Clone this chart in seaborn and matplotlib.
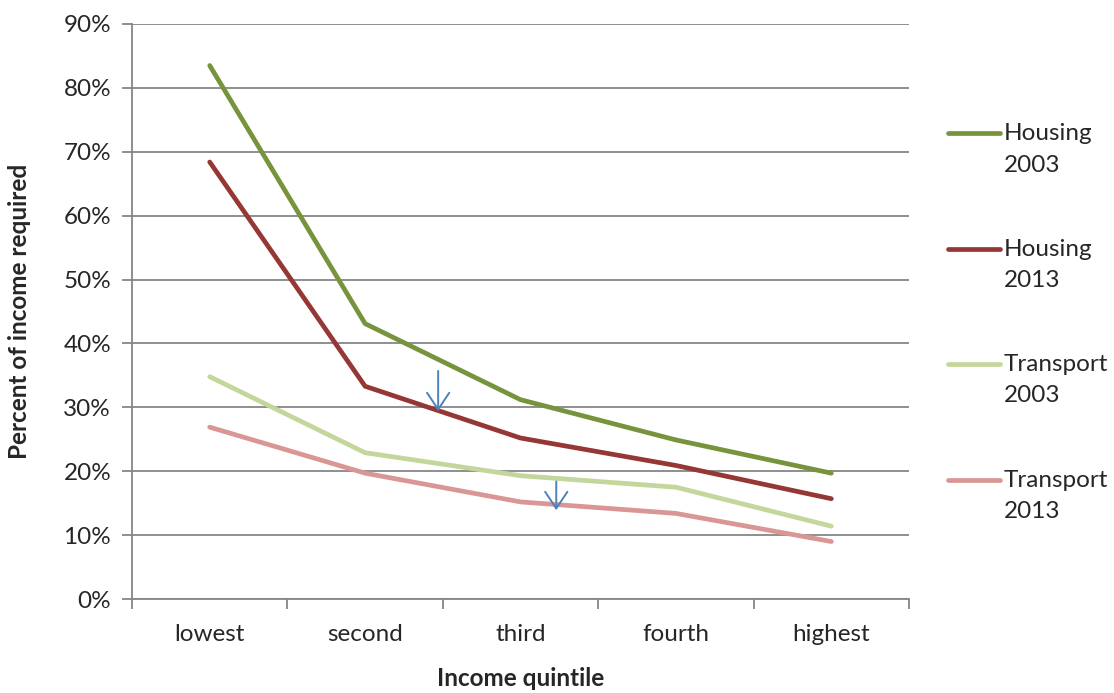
import matplotlib
matplotlib.use("Agg")
import matplotlib.pyplot as plt
from matplotlib.ticker import FixedLocator, PercentFormatter
import numpy as np
import pandas as pd
import seaborn as sns

# -------- Data --------
quintiles = ["lowest", "second", "third", "fourth", "highest"]
housing_2003 = [0.835, 0.431, 0.312, 0.249, 0.197]
housing_2013 = [0.684, 0.333, 0.252, 0.209, 0.157]
transport_2003 = [0.348, 0.229, 0.193, 0.175, 0.114]
transport_2013 = [0.269, 0.197, 0.152, 0.134, 0.090]

series_names = ["Housing\n2003", "Housing\n2013", "Transport\n2003", "Transport\n2013"]
palette = {
    "Housing\n2003": "#77933C",
    "Housing\n2013": "#953735",
    "Transport\n2003": "#C3D69B",
    "Transport\n2013": "#D99694",
}

# arrows marking the 2003 -> 2013 drop (x in quintile positions, y in share)
arrow_x = [1.47, 2.23]
arrow_top = [0.357, 0.184]
arrow_bottom = [0.294, 0.139]

pos = np.arange(len(quintiles))
df = pd.concat(
    [pd.DataFrame({"pos": pos, "share": vals, "series": name})
     for name, vals in zip(series_names,
                           [housing_2003, housing_2013, transport_2003, transport_2013])],
    ignore_index=True,
)

# -------- Plot --------
sns.set_style("white")
plt.rcParams["font.family"] = ["Lato", "DejaVu Sans"]
FS = 17.5

fig = plt.figure(figsize=(11.14, 6.93), dpi=100)
ax = fig.add_axes([0.1185, 0.1356, 0.6975, 0.8298])

sns.lineplot(data=df, x="pos", y="share", hue="series", hue_order=series_names,
             palette=palette, linewidth=3.4, sort=False, ax=ax,
             solid_capstyle="round")

for x, y0, y1 in zip(arrow_x, arrow_top, arrow_bottom):
    ax.annotate("", xy=(x, y1), xytext=(x, y0),
                arrowprops=dict(arrowstyle="->,head_length=0.6,head_width=0.4",
                                color="#4F81BD", lw=1.4,
                                mutation_scale=20, shrinkA=0, shrinkB=0))

grid_c = "#868686"
ax.set_xlim(-0.5, len(quintiles) - 0.5)
ax.set_ylim(0, 0.9)
ax.yaxis.set_major_locator(FixedLocator(np.arange(0, 0.91, 0.1)))
ax.yaxis.set_major_formatter(PercentFormatter(1.0, decimals=0))
ax.set_xticks(pos)
ax.set_xticklabels(quintiles)
ax.xaxis.set_minor_locator(FixedLocator(np.arange(-0.5, len(quintiles), 1.0)))
ax.tick_params(axis="x", which="major", length=0, pad=18, labelsize=FS)
ax.tick_params(axis="x", which="minor", length=7, width=1.3, color=grid_c,
               direction="out", bottom=True)
ax.tick_params(axis="y", which="major", length=7, width=1.3, color=grid_c,
               direction="out", pad=8, labelsize=FS, left=True)

ax.grid(axis="y", color=grid_c, linewidth=1.3)
ax.set_axisbelow(True)
for side in ("top", "right"):
    ax.spines[side].set_visible(False)
for side in ("left", "bottom"):
    ax.spines[side].set_color(grid_c)
    ax.spines[side].set_linewidth(1.3)

ax.set_xlabel("Income quintile", fontsize=FS, fontweight="bold", labelpad=16)
ax.set_ylabel("Percent of income required", fontsize=FS, fontweight="bold", labelpad=23)

leg = ax.legend(loc="upper left", bbox_to_anchor=(0.842, 0.836), bbox_transform=fig.transFigure,
                frameon=False, fontsize=FS, handlelength=2.15, handletextpad=0.16,
                labelspacing=2.6, borderaxespad=0)
for txt in leg.get_texts():
    txt.set_linespacing(1.6)
for line in leg.get_lines():
    line.set_linewidth(3.4)
    line.set_ydata(np.asarray(line.get_ydata()) + 11.5)

fig.savefig("out.png", dpi=100)
